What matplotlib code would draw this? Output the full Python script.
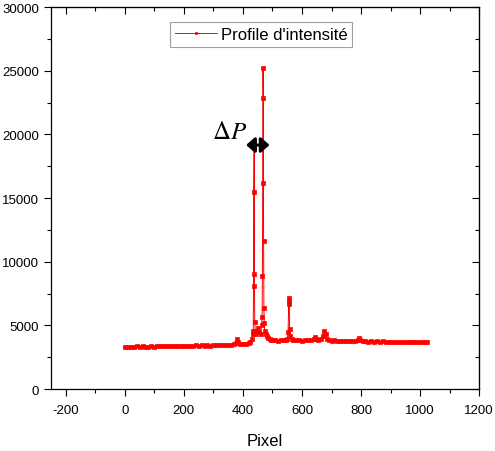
import matplotlib.pyplot as plt
from matplotlib.ticker import MultipleLocator

plt.rcParams['font.family'] = ['Liberation Sans', 'DejaVu Sans']
plt.rcParams['axes.unicode_minus'] = False

# baseline, read every ~10 pixel units
base_x = [0, 10, 20, 30, 40, 50, 60, 70, 80, 90, 100, 110, 120, 130, 140, 150,
          160, 170, 180, 190, 200, 210, 220, 230, 240, 250, 260, 270, 280, 290,
          300, 310, 320, 330, 340, 350, 360, 370, 375, 380, 385, 390, 400, 410,
          420, 425, 430, 433, 435]
base_y = [3320, 3300, 3340, 3310, 3350, 3320, 3350, 3340, 3330, 3370, 3340, 3370,
          3360, 3350, 3390, 3360, 3390, 3380, 3370, 3410, 3380, 3410, 3400, 3390,
          3430, 3400, 3440, 3410, 3450, 3420, 3460, 3430, 3480, 3450, 3490, 3460,
          3500, 3520, 3650, 3900, 3700, 3530, 3520, 3550, 3620, 3700, 3900, 4300, 4600]

# double peak around 437 / 468
peak_x = [436, 437, 438, 439, 440, 442, 445, 448, 450, 455, 460, 463, 465, 466,
          467, 468, 469, 470, 471, 472, 474, 478, 482, 486, 490, 495, 500]
peak_y = [9000, 15500, 19000, 8100, 5300, 4500, 4300, 4600, 4800, 4500, 4300,
          5000, 5700, 8900, 16200, 25200, 22900, 11600, 6400, 5200, 4600, 4300,
          4150, 4050, 3950, 3880, 3850]

# rest of the profile
tail_x = [510, 520, 530, 540, 545, 550, 553, 555, 556, 557, 558, 560, 565, 570,
          580, 590, 600, 610, 620, 630, 640, 644, 648, 655, 665, 670, 675, 680,
          685, 690, 700, 710, 720, 730, 740, 750, 760, 770, 780, 790, 793, 797,
          805, 815, 825, 835, 845, 855, 865, 875, 885, 895, 905, 915, 925, 935,
          945, 955, 965, 975, 985, 995, 1005, 1015, 1023]
tail_y = [3830, 3800, 3860, 3820, 3850, 3900, 4500, 6700, 7150, 6900, 4700, 4200,
          3950, 3880, 3830, 3860, 3810, 3850, 3820, 3860, 3900, 4080, 3950, 3850,
          3900, 4200, 4560, 4300, 3950, 3850, 3800, 3830, 3770, 3810, 3760, 3800,
          3750, 3790, 3770, 3850, 4000, 3850, 3740, 3770, 3730, 3760, 3720, 3760,
          3710, 3740, 3710, 3730, 3700, 3730, 3690, 3720, 3680, 3710, 3680, 3700,
          3670, 3700, 3680, 3700, 3690]

px = base_x + peak_x + tail_x
inten = base_y + peak_y + tail_y

fig = plt.figure(figsize=(4.95, 4.52), dpi=100)
ax = fig.add_axes([0.103, 0.137, 0.865, 0.845])

ax.plot(px, inten, color='#ff0000', lw=0.7, marker='s', markersize=3.4,
        markeredgewidth=0.5, label="Profile d'intensité")

ax.set_xlim(-250, 1200)
ax.set_ylim(0, 30000)
ax.xaxis.set_major_locator(MultipleLocator(200))
ax.xaxis.set_minor_locator(MultipleLocator(100))
ax.yaxis.set_major_locator(MultipleLocator(5000))
ax.yaxis.set_minor_locator(MultipleLocator(2500))
ax.tick_params(which='both', direction='out', labelsize=9.5, width=0.8)
ax.tick_params(which='major', length=5)
ax.tick_params(which='minor', length=3)
ax.tick_params(axis='x', pad=6)
for s in ax.spines.values():
    s.set_linewidth(0.9)

# inward ticks on the top and right frame
top = ax.secondary_xaxis('top')
top.xaxis.set_major_locator(MultipleLocator(200))
top.xaxis.set_minor_locator(MultipleLocator(100))
top.tick_params(which='both', direction='in', labeltop=False, width=0.8)
top.tick_params(which='major', length=5)
top.tick_params(which='minor', length=3)
right = ax.secondary_yaxis('right')
right.yaxis.set_major_locator(MultipleLocator(5000))
right.yaxis.set_minor_locator(MultipleLocator(2500))
right.tick_params(which='both', direction='in', labelright=False, width=0.8)
right.tick_params(which='major', length=5)
right.tick_params(which='minor', length=3)

ax.set_xlabel('Pixel', fontsize=12, labelpad=12)

# delta P annotation
ax.annotate('', xy=(490, 19170), xytext=(411, 19170),
            arrowprops=dict(arrowstyle='<|-|>,head_length=0.5,head_width=0.45',
                            color='black', lw=2.2, mutation_scale=10,
                            shrinkA=0, shrinkB=0))
ax.text(354, 20300, r'$\Delta P$', fontsize=18, ha='center', va='center',
        math_fontfamily='stix')

leg = ax.legend(loc='upper left', bbox_to_anchor=(0.278, 0.961), fontsize=12,
                fancybox=False, edgecolor='#888888', markerscale=0.6,
                handlelength=2.5, handletextpad=0.25, borderpad=0.3,
                borderaxespad=0)
leg.get_frame().set_linewidth(0.8)

fig.savefig('out.png', dpi=100)
